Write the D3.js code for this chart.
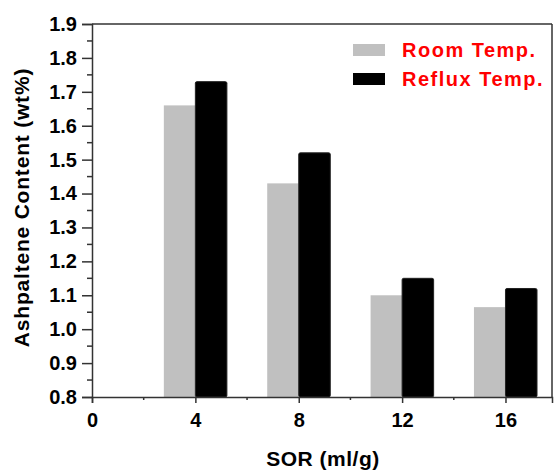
<!DOCTYPE html>
<html>
<head>
<meta charset="utf-8">
<script src="https://cdn.jsdelivr.net/npm/d3@7/dist/d3.min.js"></script>
<style>
  html, body { margin: 0; padding: 0; background: #fff; }
  svg { display: block; }
  text { font-family: "Liberation Sans", Arial, sans-serif; font-weight: bold; }
</style>
</head>
<body>
<svg id="chart" width="557" height="472"></svg>
<script>
// Solvent-to-oil ratio (ml/g) and asphaltene yield for each precipitation temperature
const sor = [4, 8, 12, 16];
const roomTemp = [1.66, 1.43, 1.10, 1.065];
const refluxTemp = [1.73, 1.52, 1.15, 1.12];
const seriesNames = ["Room Temp.", "Reflux Temp."];
const seriesColors = ["#c0c0c0", "#000000"];
const xTicks = [0, 4, 8, 12, 16];
const xMinorTicks = [2, 6, 10, 14];
const yTicks = [0.8, 0.9, 1.0, 1.1, 1.2, 1.3, 1.4, 1.5, 1.6, 1.7, 1.8, 1.9];

const svg = d3.select("#chart");
const plotLeft = 92, plotRight = 552, plotTop = 24, plotBottom = 397;

const x = d3.scaleLinear().domain([0, 17.8]).range([plotLeft, plotRight]);
const y = d3.scaleLinear().domain([0.8, 1.9]).range([plotBottom, plotTop]);
const barW = 1.22; // bar width in x units

// Bars: room temperature sits left of the tick, reflux right of it
const g = svg.append("g");
g.selectAll("rect.room").data(sor).enter().append("rect")
  .attr("class", "room")
  .attr("x", (d) => x(d - barW))
  .attr("y", (d, i) => y(roomTemp[i]))
  .attr("width", x(barW) - x(0))
  .attr("height", (d, i) => y(0.8) - y(roomTemp[i]))
  .attr("fill", seriesColors[0]);
g.selectAll("rect.reflux").data(sor).enter().append("rect")
  .attr("class", "reflux")
  .attr("x", (d) => x(d))
  .attr("y", (d, i) => y(refluxTemp[i]))
  .attr("width", x(barW) - x(0))
  .attr("height", (d, i) => y(0.8) - y(refluxTemp[i]))
  .attr("fill", seriesColors[1])
  .attr("stroke", "#222").attr("stroke-width", 1).attr("rx", 1.5);

// Frame: top and right borders
const axisColor = "#333";
svg.append("line").attr("x1", plotLeft).attr("x2", plotRight).attr("y1", plotTop).attr("y2", plotTop)
  .attr("stroke", axisColor).attr("stroke-width", 1.5);
svg.append("line").attr("x1", plotRight).attr("x2", plotRight).attr("y1", plotTop).attr("y2", plotBottom)
  .attr("stroke", axisColor).attr("stroke-width", 1.5);

// Y axis with minor ticks
const yMinor = d3.range(0.85, 1.9, 0.1);
const yAxisG = svg.append("g").attr("transform", `translate(${plotLeft},0)`)
  .call(d3.axisLeft(y).tickValues(yTicks).tickFormat(d3.format(".1f")).tickSize(10).tickPadding(5));
yAxisG.selectAll(".tick line").attr("stroke", axisColor).attr("stroke-width", 1.5);
yAxisG.select(".domain").attr("stroke", axisColor).attr("stroke-width", 1.5);
yAxisG.selectAll("text").attr("font-size", 20).attr("fill", "#000");
yAxisG.selectAll("line.minor").data(yMinor).enter().append("line")
  .attr("class", "minor")
  .attr("x1", 0).attr("x2", -5)
  .attr("y1", (d) => y(d)).attr("y2", (d) => y(d))
  .attr("stroke", axisColor).attr("stroke-width", 1.5);

// X axis with minor ticks
const xAxisG = svg.append("g").attr("transform", `translate(0,${plotBottom})`)
  .call(d3.axisBottom(x).tickValues(xTicks).tickFormat(d3.format("d")).tickSize(6).tickPadding(10));
xAxisG.selectAll(".tick line").attr("stroke", axisColor).attr("stroke-width", 1.5);
xAxisG.select(".domain").attr("stroke", axisColor).attr("stroke-width", 1.5);
xAxisG.selectAll("text").attr("font-size", 20).attr("fill", "#000");
xAxisG.selectAll("line.minor").data(xMinorTicks).enter().append("line")
  .attr("class", "minor")
  .attr("x1", (d) => x(d)).attr("x2", (d) => x(d))
  .attr("y1", 0).attr("y2", 3)
  .attr("stroke", axisColor).attr("stroke-width", 1.5);

// Axis titles
svg.append("text")
  .attr("x", 323).attr("y", 466)
  .attr("text-anchor", "middle").attr("font-size", 21)
  .attr("letter-spacing", 0.5)
  .text("SOR (ml/g)");
svg.append("text")
  .attr("transform", "translate(29,207.5) rotate(-90)")
  .attr("text-anchor", "middle").attr("font-size", 21)
  .attr("letter-spacing", 0.8)
  .text("Ashpaltene Content (wt%)");

// Legend
const legend = svg.append("g");
seriesNames.forEach((name, i) => {
  const ly = 50 + i * 29;
  legend.append("rect")
    .attr("x", 353).attr("y", ly - 6).attr("width", 32).attr("height", 12)
    .attr("fill", seriesColors[i]);
  legend.append("text")
    .attr("x", 402).attr("y", ly + 6.5)
    .attr("font-size", 20).attr("fill", "#ff0000")
    .attr("letter-spacing", 1.5)
    .text(name);
});
</script>
</body>
</html>
